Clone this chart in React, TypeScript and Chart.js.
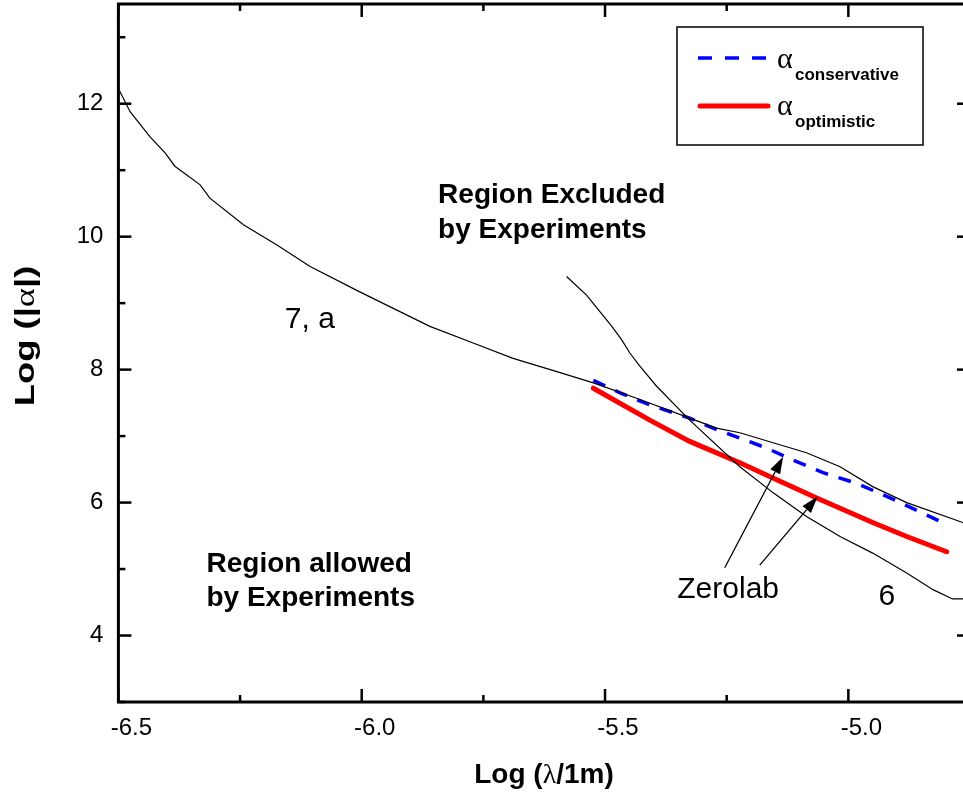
import React, { useEffect, useRef } from "react";
import { Chart, registerables } from "chart.js";

Chart.register(...registerables);

// ---- axis ranges & ticks ----
const X_MIN = -6.5;
const X_MAX = -4.75;
const Y_MIN = 3;
const Y_MAX = 13.5;
const xMajorTicks = [-6.5, -6.0, -5.5, -5.0];
const xMinorTicks = [-6.25, -5.75, -5.25, -4.75];
const yMajorTicks = [4, 6, 8, 10, 12];
const yMinorTicks = [3, 5, 7, 9, 11, 13];

// ---- curve "7, a" (thin black) ----
const curve7aX = [-6.5, -6.476, -6.435, -6.404, -6.384, -6.332, -6.312, -6.243, -6.175, -6.106, -6.004, -5.86, -5.771, -5.689, -5.599, -5.524, -5.428, -5.326, -5.271, -5.223, -5.141, -5.086, -5.017, -4.95, -4.88, -4.765, -4.75];
const curve7aY = [12.23, 11.88, 11.5, 11.26, 11.06, 10.78, 10.58, 10.18, 9.88, 9.55, 9.17, 8.65, 8.4, 8.17, 7.97, 7.8, 7.55, 7.27, 7.12, 7.05, 6.87, 6.75, 6.54, 6.24, 6.0, 5.7, 5.66];

// ---- curve "6" (thin black) ----
const curve6X = [-5.579, -5.538, -5.486, -5.466, -5.449, -5.428, -5.394, -5.326, -5.223, -5.155, -5.086, -5.017, -4.95, -4.88, -4.826, -4.786, -4.75];
const curve6Y = [9.4, 9.12, 8.65, 8.45, 8.25, 8.05, 7.75, 7.24, 6.54, 6.15, 5.79, 5.49, 5.24, 4.94, 4.69, 4.55, 4.55];

// ---- alpha conservative (blue dashed) ----
const conservX = [-5.524, -5.469, -5.408, -5.326, -5.278, -5.223, -5.168, -5.114, -5.052, -4.983, -4.914, -4.812];
const conservY = [7.84, 7.65, 7.47, 7.27, 7.12, 6.97, 6.82, 6.64, 6.45, 6.29, 6.07, 5.72];

// ---- alpha optimistic (red solid) ----
const optimX = [-5.524, -5.408, -5.326, -5.223, -5.155, -5.065, -4.95, -4.88, -4.798];
const optimY = [7.72, 7.24, 6.92, 6.6, 6.37, 6.07, 5.7, 5.49, 5.26];

// ---- annotations (data coordinates) ----
const arrowTails = [[-5.254, 5.02], [-5.182, 5.06]];
const arrowTips = [[-5.134, 6.69], [-5.063, 6.09]];

const SANS = "'Liberation Sans', Arial, sans-serif";
const SERIF = "'Liberation Serif', 'Times New Roman', serif";

function pts(xs: number[], ys: number[]) {
  return xs.map((x, i) => ({ x, y: ys[i] }));
}

type Seg = { text: string; font: string };

function drawMixed(ctx: CanvasRenderingContext2D, segs: Seg[], x: number, y: number, align: "left" | "center") {
  const widths = segs.map((s) => {
    ctx.font = s.font;
    return ctx.measureText(s.text).width;
  });
  const total = widths.reduce((a, b) => a + b, 0);
  let cx = align === "center" ? x - total / 2 : x;
  ctx.textAlign = "left";
  ctx.textBaseline = "alphabetic";
  segs.forEach((s, i) => {
    ctx.font = s.font;
    ctx.fillText(s.text, cx, y);
    cx += widths[i];
  });
}

const decoPlugin = {
  id: "deco",
  afterDraw(chart: any) {
    const { ctx, chartArea: ca, scales } = chart;
    const xs = scales.x;
    const ys = scales.y;
    const X = (v: number) => xs.getPixelForValue(v);
    const Y = (v: number) => ys.getPixelForValue(v);
    ctx.save();
    ctx.strokeStyle = "#000";
    ctx.fillStyle = "#000";

    // frame
    ctx.lineWidth = 3;
    ctx.strokeRect(ca.left, ca.top, ca.right - ca.left, ca.bottom - ca.top);

    // ticks (inward on all sides)
    const line = (x1: number, y1: number, x2: number, y2: number) => {
      ctx.beginPath();
      ctx.moveTo(x1, y1);
      ctx.lineTo(x2, y2);
      ctx.stroke();
    };
    ctx.lineWidth = 2.5;
    const MAJ = 13;
    const MIN = 7;
    xMajorTicks.forEach((v) => {
      const p = X(v);
      line(p, ca.bottom, p, ca.bottom - MAJ);
      line(p, ca.top, p, ca.top + MAJ);
    });
    xMinorTicks.forEach((v) => {
      const p = X(v);
      line(p, ca.bottom, p, ca.bottom - MIN);
      line(p, ca.top, p, ca.top + MIN);
    });
    yMajorTicks.forEach((v) => {
      const p = Y(v);
      line(ca.left, p, ca.left + MAJ, p);
      line(ca.right, p, ca.right - MAJ, p);
    });
    yMinorTicks.forEach((v) => {
      const p = Y(v);
      line(ca.left, p, ca.left + MIN, p);
      line(ca.right, p, ca.right - MIN, p);
    });

    // axis titles
    const boldT = `bold 28px ${SANS}`;
    const greek = `28px ${SERIF}`;
    drawMixed(
      ctx,
      [
        { text: "Log (", font: boldT },
        { text: "\u03BB", font: greek },
        { text: "/1m)", font: boldT },
      ],
      544,
      783,
      "center"
    );
    ctx.save();
    ctx.translate(33.5, 336);
    ctx.rotate(-Math.PI / 2);
    ctx.scale(1.3, 1);
    drawMixed(
      ctx,
      [
        { text: "Log (|", font: boldT },
        { text: "\u03B1", font: greek },
        { text: "|)", font: boldT },
      ],
      0,
      0,
      "center"
    );
    ctx.restore();

    // region texts
    const regionFont = `bold 28px ${SANS}`;
    drawMixed(ctx, [{ text: "Region Excluded", font: regionFont }], X(-5.843), Y(10.5), "left");
    drawMixed(ctx, [{ text: "by Experiments", font: regionFont }], X(-5.843), Y(9.98), "left");
    drawMixed(ctx, [{ text: "Region allowed", font: regionFont }], X(-6.319), Y(4.96), "left");
    drawMixed(ctx, [{ text: "by Experiments", font: regionFont }], X(-6.319), Y(4.44), "left");

    const labFont = `30px ${SANS}`;
    drawMixed(ctx, [{ text: "7, a", font: labFont }], X(-6.158), Y(8.62), "left");
    drawMixed(ctx, [{ text: "Zerolab", font: labFont }], X(-5.247), Y(4.56), "center");
    drawMixed(ctx, [{ text: "6", font: labFont }], X(-4.921), Y(4.46), "center");

    // arrows
    ctx.lineWidth = 1.3;
    arrowTails.forEach((t, i) => {
      const x1 = X(t[0]);
      const y1 = Y(t[1]);
      const x2 = X(arrowTips[i][0]);
      const y2 = Y(arrowTips[i][1]);
      const ang = Math.atan2(y2 - y1, x2 - x1);
      const L = 17;
      const W = 5.5;
      const bx = x2 - L * Math.cos(ang);
      const by = y2 - L * Math.sin(ang);
      line(x1, y1, bx, by);
      ctx.beginPath();
      ctx.moveTo(x2, y2);
      ctx.lineTo(bx + W * Math.sin(ang), by - W * Math.cos(ang));
      ctx.lineTo(bx - W * Math.sin(ang), by + W * Math.cos(ang));
      ctx.closePath();
      ctx.fill();
    });

    // legend
    ctx.lineWidth = 1.5;
    ctx.strokeStyle = "#000";
    ctx.strokeRect(677, 27, 246, 118);
    ctx.lineWidth = 3.5;
    ctx.strokeStyle = "#0000ff";
    ctx.setLineDash([14, 13]);
    line(698, 58, 770, 58);
    ctx.setLineDash([]);
    ctx.strokeStyle = "#ff0000";
    ctx.lineWidth = 5;
    ctx.lineCap = "round";
    line(700, 106, 768, 106);
    ctx.lineCap = "butt";
    ctx.fillStyle = "#000";
    const aFont = `30px ${SERIF}`;
    const subFont = `bold 17px ${SANS}`;
    drawMixed(ctx, [{ text: "\u03B1", font: aFont }], 777, 68, "left");
    drawMixed(ctx, [{ text: "conservative", font: subFont }], 795, 80, "left");
    drawMixed(ctx, [{ text: "\u03B1", font: aFont }], 777, 115, "left");
    drawMixed(ctx, [{ text: "optimistic", font: subFont }], 795, 127, "left");

    ctx.restore();
  },
};

export default function App() {
  const ref = useRef<HTMLCanvasElement | null>(null);
  useEffect(() => {
    if (!ref.current) return;
    const chart = new Chart(ref.current, {
      type: "line",
      data: {
        datasets: [
          { label: "7, a", data: pts(curve7aX, curve7aY), borderColor: "#000", borderWidth: 1.2, pointRadius: 0, fill: false, tension: 0 },
          { label: "6", data: pts(curve6X, curve6Y), borderColor: "#000", borderWidth: 1.2, pointRadius: 0, fill: false, tension: 0 },
          { label: "conservative", data: pts(conservX, conservY), borderColor: "#0000ff", borderWidth: 3.5, borderDash: [13, 11], pointRadius: 0, fill: false, tension: 0 },
          { label: "optimistic", data: pts(optimX, optimY), borderColor: "#ff0000", borderWidth: 5, borderCapStyle: "round", pointRadius: 0, fill: false, tension: 0 },
        ],
      },
      options: {
        animation: false,
        responsive: false,
        devicePixelRatio: 1,
        layout: { padding: { top: 4, right: 5, left: 0, bottom: 0 } },
        plugins: { legend: { display: false }, tooltip: { enabled: false } },
        scales: {
          x: {
            type: "linear",
            min: X_MIN,
            max: X_MAX,
            grid: { display: false, drawTicks: false },
            border: { display: false },
            afterBuildTicks: (s: any) => {
              s.ticks = xMajorTicks.map((v) => ({ value: v }));
            },
            afterFit: (s: any) => {
              s.height = 94;
              s.paddingLeft = 0;
              s.paddingRight = 0;
            },
            ticks: {
              padding: 12,
              labelOffset: 13,
              color: "#000",
              maxRotation: 0,
              autoSkip: false,
              font: { family: "'Liberation Sans', Arial, sans-serif", size: 24 },
              callback: (v: any) => Number(v).toFixed(1),
            },
          },
          y: {
            type: "linear",
            min: Y_MIN,
            max: Y_MAX,
            grid: { display: false, drawTicks: false },
            border: { display: false },
            afterBuildTicks: (s: any) => {
              s.ticks = yMajorTicks.map((v) => ({ value: v }));
            },
            afterFit: (s: any) => {
              s.width = 118.4;
              s.paddingTop = 0;
              s.paddingBottom = 0;
            },
            ticks: {
              padding: 15,
              color: "#000",
              autoSkip: false,
              font: { family: "'Liberation Sans', Arial, sans-serif", size: 24 },
              callback: (v: any) => String(v),
            },
          },
        },
      },
      plugins: [decoPlugin],
    } as any);
    return () => chart.destroy();
  }, []);

  return (
    <div style={{ position: "fixed", left: 0, top: 0, width: 963, height: 796, overflow: "hidden", background: "#fff" }}>
      <canvas ref={ref} width={975} height={796} style={{ display: "block", width: 975, height: 796 }} />
    </div>
  );
}
